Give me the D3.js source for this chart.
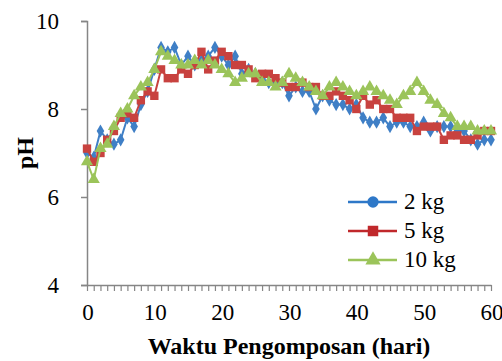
<!DOCTYPE html>
<html>
<head>
<meta charset="utf-8">
<script src="https://cdn.jsdelivr.net/npm/d3@7"></script>
<style>
  html, body { margin: 0; padding: 0; background: #fff; }
  svg { display: block; }
  text { font-family: "Liberation Serif", "Times New Roman", serif; }
</style>
</head>
<body>
<svg id="chart" width="502" height="361"></svg>
<script>
// days 0..60
const days = d3.range(0, 61);

const ph2kg = [7.0, 6.9, 7.5, 7.3, 7.2, 7.3, 7.8, 7.6, 8.1, 8.4,
  8.9, 9.4, 9.3, 9.4, 9.0, 9.2, 9.0, 9.1, 9.2, 9.4,
  9.2, 9.0, 9.2, 8.8, 8.9, 8.8, 8.7, 8.6, 8.6, 8.6,
  8.3, 8.5, 8.4, 8.4, 8.0, 8.3, 8.2, 8.1, 8.1, 8.0,
  8.1, 7.8, 7.7, 7.7, 7.8, 7.6, 7.7, 7.7, 7.6, 7.6,
  7.7, 7.5, 7.6, 7.6, 7.6, 7.5, 7.5, 7.3, 7.2, 7.3, 7.3];

const ph5kg = [7.1, 6.8, 7.0, 7.3, 7.5, 7.8, 7.9, 7.8, 8.2, 8.4,
  8.3, 8.9, 8.7, 8.7, 8.9, 8.8, 9.0, 9.3, 8.9, 9.1,
  9.3, 9.2, 9.0, 9.0, 8.9, 8.7, 8.8, 8.8, 8.7, 8.6,
  8.5, 8.5, 8.6, 8.5, 8.5, 8.3, 8.3, 8.4, 8.3, 8.2,
  8.0, 8.3, 8.1, 8.2, 8.0, 8.0, 7.8, 7.8, 7.8, 7.5,
  7.6, 7.6, 7.6, 7.3, 7.4, 7.4, 7.3, 7.3, 7.4, 7.5, 7.5];

const ph10kg = [6.8, 6.4, 7.1, 7.2, 7.6, 7.9, 8.0, 8.3, 8.5, 8.6,
  8.9, 9.3, 9.2, 9.1, 9.0, 9.0, 9.1, 9.0, 9.1, 9.0,
  8.9, 8.8, 8.6, 8.7, 8.8, 8.8, 8.6, 8.6, 8.5, 8.6,
  8.8, 8.7, 8.6, 8.5, 8.4, 8.3, 8.5, 8.6, 8.5, 8.4,
  8.3, 8.4, 8.5, 8.4, 8.3, 8.2, 8.1, 8.3, 8.4, 8.6,
  8.4, 8.2, 8.1, 7.9, 7.8, 7.6, 7.6, 7.6, 7.5, 7.5, 7.5];

const seriesNames = ['2 kg', '5 kg', '10 kg'];
const xTicks = [0, 10, 20, 30, 40, 50, 60];
const yTicks = [4, 6, 8, 10];

const series = [
  { name: seriesNames[0], values: ph2kg,  color: '#3f7fc6', legendColor: '#2e78c8', marker: 'diamond' },
  { name: seriesNames[1], values: ph5kg,  color: '#c8423f', legendColor: '#c0282b', marker: 'square' },
  { name: seriesNames[2], values: ph10kg, color: '#9bc45a', legendColor: '#9bc45a', marker: 'triangle' },
];

const FONT = '"Liberation Serif", "Times New Roman", serif';
const svg = d3.select('#chart');
const x = d3.scaleLinear().domain([0, 60]).range([87, 491]);
const y = d3.scaleLinear().domain([4, 10]).range([285, 21]);
const axisColor = '#868686';

// y axis
const yAxis = svg.append('g').attr('transform', 'translate(87,0)')
  .call(d3.axisLeft(y).tickValues(yTicks).tickFormat(d3.format('d')).tickSize(6).tickPadding(6));
yAxis.attr('font-family', FONT).attr('font-size', 23);
yAxis.select('.domain').attr('stroke', axisColor).attr('stroke-width', 1.5);
yAxis.selectAll('.tick line').attr('stroke', axisColor).attr('stroke-width', 1.5);
yAxis.selectAll('.tick text').attr('fill', '#000').attr('x', -28).attr('dy', '0.34em');

// x axis with a tick every day
const xAxis = svg.append('g').attr('transform', 'translate(0,285)')
  .call(d3.axisBottom(x).tickValues(days).tickSize(6).tickSizeOuter(0).tickFormat(''));
xAxis.select('.domain').attr('stroke', axisColor).attr('stroke-width', 1.5);
xAxis.selectAll('.tick line').attr('stroke', axisColor).attr('stroke-width', 1.2);

svg.append('g').selectAll('text')
  .data(xTicks).join('text')
  .attr('x', d => x(d) + 1).attr('y', 320)
  .attr('text-anchor', 'middle').attr('font-size', 23).attr('font-family', FONT)
  .text(d => d);

// axis titles
svg.append('text')
  .attr('x', 289).attr('y', 354)
  .attr('text-anchor', 'middle').attr('font-size', 24).attr('font-weight', 'bold')
  .attr('font-family', FONT)
  .text('Waktu Pengomposan (hari)');

svg.append('text')
  .attr('transform', 'translate(33,153) rotate(-90)')
  .attr('text-anchor', 'middle').attr('font-size', 24).attr('font-weight', 'bold')
  .attr('font-family', FONT)
  .text('pH');

const symbolFor = m => m === 'diamond'
  ? d3.symbol(d3.symbolDiamond, 50)
  : m === 'square' ? d3.symbol(d3.symbolSquare, 70) : d3.symbol(d3.symbolTriangle, 64);

const line = d3.line().x((d, i) => x(days[i])).y(d => y(d));

series.forEach(s => {
  const g = svg.append('g');
  g.append('path')
    .attr('d', line(s.values))
    .attr('fill', 'none').attr('stroke', s.color).attr('stroke-width', 2);
  g.selectAll('path.m')
    .data(s.values).join('path').attr('class', 'm')
    .attr('d', symbolFor(s.marker))
    .attr('transform', (d, i) => `translate(${x(days[i])},${y(d)})`)
    .attr('fill', s.color);
});

// legend
const legendMarker = m => m === 'diamond'
  ? d3.symbol(d3.symbolCircle, 100)
  : m === 'square' ? d3.symbol(d3.symbolSquare, 110) : d3.symbol(d3.symbolTriangle, 100);

const legend = svg.append('g');
series.forEach((s, i) => {
  const ly = 202 + i * 29;
  legend.append('line')
    .attr('x1', 348).attr('x2', 397).attr('y1', ly).attr('y2', ly)
    .attr('stroke', s.legendColor).attr('stroke-width', 2.5);
  legend.append('path')
    .attr('d', legendMarker(s.marker)())
    .attr('transform', `translate(373,${ly})`)
    .attr('fill', s.legendColor);
  legend.append('text')
    .attr('x', 404).attr('y', ly + 7)
    .attr('font-size', 23).attr('font-family', FONT)
    .text(s.name);
});
</script>
</body>
</html>
